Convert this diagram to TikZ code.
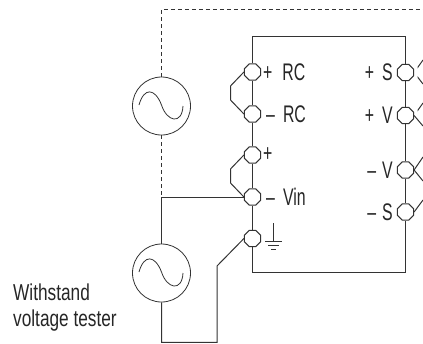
\documentclass[tikz,border=0pt]{standalone}
\usepackage{fontspec}
\newfontfamily\narrowfont[FakeStretch=0.66]{Liberation Sans}
\newfontfamily\notefont[FakeStretch=0.75]{Liberation Sans}
\usetikzlibrary{shapes.geometric}
\definecolor{wire}{HTML}{333333}
\tikzset{
  terminal/.style={draw=wire,fill=white,regular polygon,regular polygon sides=8,minimum size=17.5pt,inner sep=0pt,line width=1pt},
  source/.style={draw=wire,circle,minimum size=58pt,inner sep=0pt,line width=0.8pt},
  wiring/.style={draw=wire,line width=1pt},
  tag/.style={inner sep=0pt,text=black!85,font=\narrowfont\fontsize{24}{24}\selectfont},
  note/.style={inner sep=0pt,anchor=base west,text=black!85,font=\notefont\fontsize{23}{23}\selectfont}
}
\begin{document}
\begin{tikzpicture}[x=1pt,y=-1pt]
\useasboundingbox (0,0) rectangle (423,343);
\node [source] (acup) at (161.5,106) {};
\node [source] (aclow) at (161.5,273) {};
\draw [wiring,line width=0.8pt] (139,105) .. controls (144,87) and (155,88) .. (161.5,105) .. controls (167,122) and (182,125) .. (183,106);
\draw [wiring,line width=0.8pt] (139,272) .. controls (144,254) and (155,255) .. (161.5,272) .. controls (167,289) and (182,292) .. (183,273);
\node [terminal] (rcp) at (252.5,72) {};
\node [terminal] (rcm) at (252.5,114) {};
\node [terminal] (vinp) at (252.5,155) {};
\node [terminal] (vinm) at (252.5,197) {};
\node [terminal] (gnd) at (252.5,238.5) {};
\node [terminal] (sp) at (405.5,72.5) {};
\node [terminal] (vp) at (405.5,115.5) {};
\node [terminal] (vm) at (405.5,170) {};
\node [terminal] (sm) at (405.5,212) {};
\coordinate (tl) at (251.5,36);
\coordinate (tr) at (405,36);
\coordinate (bl) at (251.5,272.5);
\coordinate (br) at (405,272.5);
\draw [wiring] (rcp.north) -- (rcp.north|-tl) -- (sp.north|-tl) -- (sp.north);
\draw [wiring] (rcp) -- (rcm);
\draw [wiring] (rcm) -- (vinp);
\draw [wiring] (vinp) -- (vinm);
\draw [wiring] (vinm) -- (gnd);
\draw [wiring] (gnd.south) -- (gnd.south|-bl) -- (sm.south|-br) -- (sm.south);
\draw [wiring] (sp) -- (vp);
\draw [wiring] (vp) -- (vm);
\draw [wiring] (vm) -- (sm);
% jumpers
\coordinate (ja) at (230.5,86);
\coordinate (jb) at (230.5,100);
\coordinate (jc) at (230.5,169);
\coordinate (jd) at (230.5,183);
\draw [wiring] (rcp.west) -- (ja) -- (jb) -- (rcm.west);
\draw [wiring] (vinp.west) -- (jc) -- (jd) -- (vinm.west);
% tester leads
\coordinate (upc) at (161.5,197);
\coordinate (lowa) at (161.5,342.3);
\coordinate (lowb) at (217,342.3);
\coordinate (lowc) at (217,266);
\coordinate (dashtop) at (161.5,9);
\coordinate (dashend) at (423,9);
\draw [wiring] (vinm.west) -- (upc) -- (aclow.north);
\draw [wiring] (aclow.south) -- (lowa) -- (lowb) -- (lowc) -- (gnd.west);
\draw [wiring,dash pattern=on 4pt off 3pt,line width=0.8pt] (acup.north) -- (dashtop) -- (dashend);
\draw [wiring,dash pattern=on 4pt off 3pt,line width=0.8pt] (acup.south) -- (upc);
% leads at the right edge
\coordinate (oa) at (423,60);
\coordinate (ob) at (423,84);
\coordinate (oc) at (423,103);
\coordinate (od) at (423,126);
\coordinate (oe) at (423,157);
\coordinate (of) at (423,181);
\coordinate (og) at (423,200);
\begin{scope}
\clip (417.5,0) rectangle (423,343);
\draw [wiring] (sp.east) -- (oa);
\draw [wiring] (sp.east) -- (ob);
\draw [wiring] (vp.east) -- (oc);
\end{scope}
\draw [wiring] (vp.east) -- (od);
\draw [wiring] (vm.east) -- (oe);
\draw [wiring] (vm.east) -- (of);
\draw [wiring] (sm.east) -- (og);
% ground symbol
\coordinate (ga) at (273.5,223);
\coordinate (gb) at (273.5,241);
\coordinate (gc) at (265,241);
\coordinate (gd) at (282,241);
\coordinate (ge) at (268,245);
\coordinate (gf) at (279,245);
\coordinate (gg) at (271,249);
\coordinate (gh) at (276,249);
\draw [wiring,line width=0.8pt] (ga) -- (gb) (gc) -- (gd) (ge) -- (gf) (gg) -- (gh);
% labels
\node [tag,anchor=west] (trcp) at (263,72) {+\hspace{10pt}RC};
\node [tag,anchor=west] (trcm) at (266,114) {–\hspace{8pt}RC};
\node [tag,anchor=west] (tvinp) at (263,155) {+};
\node [tag,anchor=west] (tvinm) at (266,197) {–\hspace{8pt}Vin};
\node [tag,anchor=east] (tsp) at (393,72.5) {+\hspace{8pt}S};
\node [tag,anchor=east] (tvp) at (393,115.5) {+\hspace{8pt}V};
\node [tag,anchor=east] (tvm) at (393,170) {–\hspace{6pt}V};
\node [tag,anchor=east] (tsm) at (393,212) {–\hspace{6pt}S};
\node [note] (testera) at (13,300) {Withstand};
\node [note] (testerb) at (13,326) {voltage tester};
\end{tikzpicture}
\end{document}
